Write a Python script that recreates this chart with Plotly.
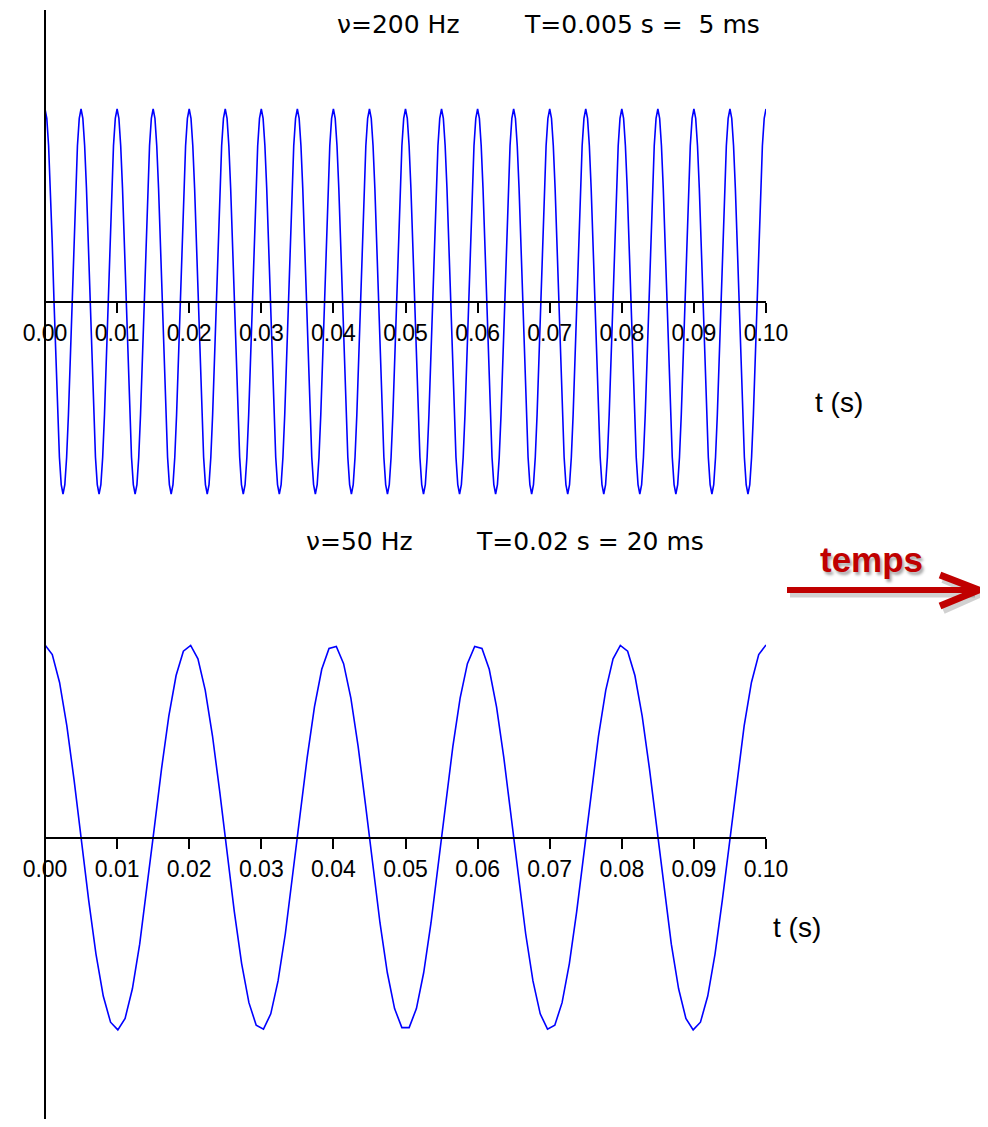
import numpy as np
import plotly.graph_objects as go

# ---------------- data ----------------
tick_vals = [0.00, 0.01, 0.02, 0.03, 0.04, 0.05, 0.06, 0.07, 0.08, 0.09, 0.10]
tick_text = ["0.00", "0.01", "0.02", "0.03", "0.04", "0.05", "0.06", "0.07", "0.08", "0.09", "0.10"]

# 200 Hz signal: sampled every 0.25 ms from 0 to 0.1 s (401 samples)
t_200 = np.linspace(0.0, 0.1, 401)
u_200 = [
    1.000, 0.951, 0.809, 0.588, 0.309, 0.000, -0.309, -0.588, -0.809, -0.951, -1.000, -0.951, -0.809, -0.588, -0.309, 0.000, 0.309, 0.588, 0.809, 0.951,
    1.000, 0.951, 0.809, 0.588, 0.309, 0.000, -0.309, -0.588, -0.809, -0.951, -1.000, -0.951, -0.809, -0.588, -0.309, 0.000, 0.309, 0.588, 0.809, 0.951,
    1.000, 0.951, 0.809, 0.588, 0.309, 0.000, -0.309, -0.588, -0.809, -0.951, -1.000, -0.951, -0.809, -0.588, -0.309, 0.000, 0.309, 0.588, 0.809, 0.951,
    1.000, 0.951, 0.809, 0.588, 0.309, 0.000, -0.309, -0.588, -0.809, -0.951, -1.000, -0.951, -0.809, -0.588, -0.309, 0.000, 0.309, 0.588, 0.809, 0.951,
    1.000, 0.951, 0.809, 0.588, 0.309, 0.000, -0.309, -0.588, -0.809, -0.951, -1.000, -0.951, -0.809, -0.588, -0.309, 0.000, 0.309, 0.588, 0.809, 0.951,
    1.000, 0.951, 0.809, 0.588, 0.309, 0.000, -0.309, -0.588, -0.809, -0.951, -1.000, -0.951, -0.809, -0.588, -0.309, 0.000, 0.309, 0.588, 0.809, 0.951,
    1.000, 0.951, 0.809, 0.588, 0.309, 0.000, -0.309, -0.588, -0.809, -0.951, -1.000, -0.951, -0.809, -0.588, -0.309, 0.000, 0.309, 0.588, 0.809, 0.951,
    1.000, 0.951, 0.809, 0.588, 0.309, 0.000, -0.309, -0.588, -0.809, -0.951, -1.000, -0.951, -0.809, -0.588, -0.309, 0.000, 0.309, 0.588, 0.809, 0.951,
    1.000, 0.951, 0.809, 0.588, 0.309, 0.000, -0.309, -0.588, -0.809, -0.951, -1.000, -0.951, -0.809, -0.588, -0.309, 0.000, 0.309, 0.588, 0.809, 0.951,
    1.000, 0.951, 0.809, 0.588, 0.309, 0.000, -0.309, -0.588, -0.809, -0.951, -1.000, -0.951, -0.809, -0.588, -0.309, 0.000, 0.309, 0.588, 0.809, 0.951,
    1.000, 0.951, 0.809, 0.588, 0.309, 0.000, -0.309, -0.588, -0.809, -0.951, -1.000, -0.951, -0.809, -0.588, -0.309, 0.000, 0.309, 0.588, 0.809, 0.951,
    1.000, 0.951, 0.809, 0.588, 0.309, 0.000, -0.309, -0.588, -0.809, -0.951, -1.000, -0.951, -0.809, -0.588, -0.309, 0.000, 0.309, 0.588, 0.809, 0.951,
    1.000, 0.951, 0.809, 0.588, 0.309, 0.000, -0.309, -0.588, -0.809, -0.951, -1.000, -0.951, -0.809, -0.588, -0.309, 0.000, 0.309, 0.588, 0.809, 0.951,
    1.000, 0.951, 0.809, 0.588, 0.309, 0.000, -0.309, -0.588, -0.809, -0.951, -1.000, -0.951, -0.809, -0.588, -0.309, 0.000, 0.309, 0.588, 0.809, 0.951,
    1.000, 0.951, 0.809, 0.588, 0.309, 0.000, -0.309, -0.588, -0.809, -0.951, -1.000, -0.951, -0.809, -0.588, -0.309, 0.000, 0.309, 0.588, 0.809, 0.951,
    1.000, 0.951, 0.809, 0.588, 0.309, 0.000, -0.309, -0.588, -0.809, -0.951, -1.000, -0.951, -0.809, -0.588, -0.309, 0.000, 0.309, 0.588, 0.809, 0.951,
    1.000, 0.951, 0.809, 0.588, 0.309, 0.000, -0.309, -0.588, -0.809, -0.951, -1.000, -0.951, -0.809, -0.588, -0.309, 0.000, 0.309, 0.588, 0.809, 0.951,
    1.000, 0.951, 0.809, 0.588, 0.309, 0.000, -0.309, -0.588, -0.809, -0.951, -1.000, -0.951, -0.809, -0.588, -0.309, 0.000, 0.309, 0.588, 0.809, 0.951,
    1.000, 0.951, 0.809, 0.588, 0.309, 0.000, -0.309, -0.588, -0.809, -0.951, -1.000, -0.951, -0.809, -0.588, -0.309, 0.000, 0.309, 0.588, 0.809, 0.951,
    1.000, 0.951, 0.809, 0.588, 0.309, 0.000, -0.309, -0.588, -0.809, -0.951, -1.000, -0.951, -0.809, -0.588, -0.309, 0.000, 0.309, 0.588, 0.809, 0.951,
    1.000,
]

# 50 Hz signal: 100 samples from 0 to 0.1 s
t_50 = np.linspace(0.0, 0.1, 100)
u_50 = [
    1.00000, 0.95007, 0.80527, 0.58007, 0.29692, -0.01587, -0.32707, -0.60561, -0.82368, -0.95949,
    -0.99950, -0.93969, -0.78605, -0.55393, -0.26647, 0.04758, 0.35689, 0.63056, 0.84125, 0.96795,
    0.99799, 0.92836, 0.76604, 0.52722, 0.23576, -0.07924, -0.38634, -0.65486, -0.85799, -0.97543,
    -0.99547, -0.91611, -0.74526, -0.50000, -0.20481, 0.11084, 0.41540, 0.67851, 0.87384, 0.98193,
    0.99195, 0.90292, 0.72374, 0.47227, 0.17365, -0.14232, -0.44407, -0.70148, -0.88884, -0.98744,
    -0.98744, -0.88884, -0.70148, -0.44407, -0.14232, 0.17365, 0.47227, 0.72374, 0.90292, 0.99195,
    0.98193, 0.87384, 0.67851, 0.41540, 0.11084, -0.20481, -0.50000, -0.74526, -0.91611, -0.99547,
    -0.97543, -0.85799, -0.65486, -0.38634, -0.07924, 0.23576, 0.52722, 0.76604, 0.92836, 0.99799,
    0.96795, 0.84125, 0.63056, 0.35689, 0.04758, -0.26647, -0.55393, -0.78605, -0.93969, -0.99950,
    -0.95949, -0.82368, -0.60561, -0.32707, -0.01587, 0.29692, 0.58007, 0.80527, 0.95007, 1.00000,
]

# ---------------- layout helpers ----------------
OFF = 8                      # page body margin
W, H = 988 - 2 * OFF, 1127 - 2 * OFF
def px(x):
    return (x - OFF) / W
def py(y):
    return 1 - (y - OFF) / H

X0, X1 = 45, 766          # window-pixel span of the time axes
AMP = 192.5               # pixel amplitude of the curves
PAD = 20
YR = 1 + PAD / AMP
TOP_ZERO, BOT_ZERO = 301.5, 837.5

fig = go.Figure()
fig.add_trace(go.Scatter(x=t_200, y=u_200, mode="lines", xaxis="x", yaxis="y",
                         line=dict(color="#0000ff", width=1.6), hoverinfo="skip"))
fig.add_trace(go.Scatter(x=t_50, y=u_50, mode="lines", xaxis="x2", yaxis="y2",
                         line=dict(color="#0000ff", width=1.6), hoverinfo="skip"))

tickfont = dict(family="Liberation Sans, Arial, sans-serif", size=23, color="black")
xcommon = dict(range=[0, 0.1], domain=[px(X0), px(X1)], anchor="free",
               showline=True, linecolor="black", linewidth=2,
               ticks="outside", ticklen=10, tickwidth=1.5, tickcolor="black",
               tickvals=tick_vals, ticktext=tick_text, tickfont=tickfont,
               showgrid=False, zeroline=False, ticklabelstandoff=1, automargin=False)
fig.update_layout(
    width=W, height=H, autosize=False,
    margin=dict(l=0, r=0, t=0, b=0, pad=0, autoexpand=False),
    paper_bgcolor="white", plot_bgcolor="white",
    showlegend=False,
    xaxis=dict(position=py(TOP_ZERO), **xcommon),
    xaxis2=dict(position=py(BOT_ZERO), **xcommon),
    yaxis=dict(visible=False, range=[-YR, YR],
               domain=[py(TOP_ZERO + AMP + PAD), py(TOP_ZERO - AMP - PAD)]),
    yaxis2=dict(visible=False, range=[-YR, YR],
                domain=[py(BOT_ZERO + AMP + PAD), py(BOT_ZERO - AMP - PAD)]),
)

titlefont = dict(family="DejaVu Sans, Liberation Sans, sans-serif", size=25, color="black")
axtitlefont = dict(family="Liberation Sans, Arial, sans-serif", size=28, color="black")
NB = "\u00a0"
labels = [
    ("\u03bd=200 Hz", 336, 24, titlefont),
    ("T=0.005 s =" + NB + NB + "5 ms", 523, 24, titlefont),
    ("t (s)", 814, 403, axtitlefont),
    ("\u03bd=50 Hz", 305, 541, titlefont),
    ("T=0.02 s = 20 ms", 475, 541, titlefont),
    ("t (s)", 772, 927, axtitlefont),
]
for text, x, y, f in labels:
    fig.add_annotation(x=px(x), y=py(y), xref="paper", yref="paper", text=text,
                       showarrow=False, xanchor="left", yanchor="middle", font=f,
                       borderpad=0)

# vertical axis line
fig.add_shape(type="line", xref="paper", yref="paper",
              x0=px(45), x1=px(45), y0=py(10), y1=0,
              line=dict(color="black", width=2))

# "temps" arrow decoration
RED = "#c00000"
SH = "rgba(0,0,0,0.18)"
fig.add_shape(type="line", xref="paper", yref="paper",
              x0=px(790), x1=px(975), y0=py(594), y1=py(594), line=dict(color=SH, width=7))
fig.add_shape(type="path", xref="paper", yref="paper",
              path=f"M {px(943)},{py(579)} L {px(979)},{py(594)} L {px(943)},{py(610)}",
              line=dict(color=SH, width=8))
fig.add_shape(type="line", xref="paper", yref="paper",
              x0=px(787), x1=px(975), y0=py(590), y1=py(590), line=dict(color=RED, width=6))
fig.add_shape(type="path", xref="paper", yref="paper",
              path=f"M {px(940)},{py(575)} L {px(979)},{py(590)} L {px(940)},{py(606)}",
              line=dict(color=RED, width=7))
fig.add_annotation(x=px(871), y=py(559), xref="paper", yref="paper", text="<b>temps</b>",
                   showarrow=False, xanchor="center", yanchor="middle",
                   font=dict(family="Liberation Sans, Arial, sans-serif", size=35, color=RED,
                             shadow="2px 3px 3px rgba(0,0,0,0.35)"))

fig.write_html("out.html")
